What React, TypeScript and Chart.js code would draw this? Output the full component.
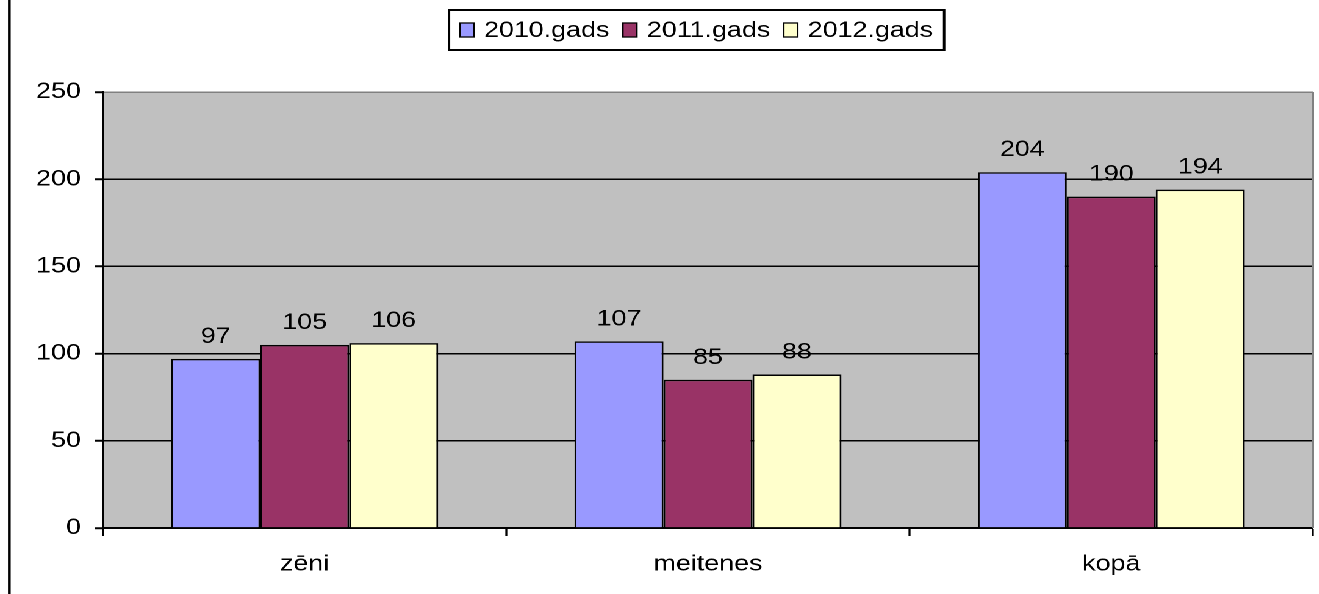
import { useEffect, useRef } from 'react';
import { Chart, ChartConfiguration, Plugin, registerables } from 'chart.js';

Chart.register(...registerables);

// the reference is an Excel chart stretched sideways, so the canvas is drawn narrower and widened with CSS
const STRETCH = 1.22;
const sx = (px: number) => px / STRETCH; // screen px -> canvas units, horizontally
const FONT = "'Liberation Sans', Arial, sans-serif";
const FONT_SIZE = 22;

const categories = ['zēni', 'meitenes', 'kopā'];
const seriesNames = ['2010.gads', '2011.gads', '2012.gads'];
const values2010 = [97, 107, 204];
const values2011 = [105, 85, 190];
const values2012 = [106, 88, 194];
const seriesColors = ['#9999FF', '#993366', '#FFFFCC'];
const yTicks = [0, 50, 100, 150, 200, 250];

const plotFrame: Plugin<'bar'> = {
  id: 'plotFrame',
  beforeDraw(chart) {
    const { ctx, chartArea } = chart;
    ctx.save();
    ctx.fillStyle = '#C0C0C0';
    ctx.fillRect(chartArea.left, chartArea.top, chartArea.right - chartArea.left, chartArea.bottom - chartArea.top);
    ctx.restore();
  },
  afterDraw(chart) {
    const { ctx, chartArea } = chart;
    ctx.save();
    // right edge of the plot area
    ctx.strokeStyle = '#808080';
    ctx.lineWidth = sx(2);
    ctx.beginPath();
    ctx.moveTo(chartArea.right, chartArea.top);
    ctx.lineTo(chartArea.right, chartArea.bottom);
    ctx.stroke();
    // page border on the left
    ctx.fillStyle = '#000';
    ctx.fillRect(sx(8), 0, sx(2.7), chart.height);
    ctx.restore();
  }
};

const valueLabels: Plugin<'bar'> = {
  id: 'valueLabels',
  afterDatasetsDraw(chart) {
    const { ctx } = chart;
    ctx.save();
    ctx.font = `${FONT_SIZE}px ${FONT}`;
    ctx.fillStyle = '#000';
    ctx.textAlign = 'center';
    ctx.textBaseline = 'alphabetic';
    chart.data.datasets.forEach((ds, i) => {
      chart.getDatasetMeta(i).data.forEach((el, j) => {
        ctx.fillText(String(ds.data[j]), el.x, el.y - 16);
      });
    });
    ctx.restore();
  }
};

const boxedLegend: Plugin<'bar'> = {
  id: 'boxedLegend',
  afterDraw(chart) {
    const { ctx } = chart;
    const left = sx(449);
    const top = 10;
    const height = 40;
    const padX = sx(11);
    const swatchW = sx(14);
    const swatchH = 14;
    const gap = sx(10);
    const itemGap = sx(13.5);
    ctx.save();
    ctx.font = `${FONT_SIZE}px ${FONT}`;
    const widths = chart.data.datasets.map((ds) => ctx.measureText(String(ds.label)).width);
    const total = padX * 2 + widths.reduce((s, w) => s + swatchW + gap + w, 0) + itemGap * (widths.length - 1);
    ctx.fillStyle = '#fff';
    ctx.fillRect(left, top, total, height);
    ctx.strokeStyle = '#000';
    ctx.lineWidth = 2;
    ctx.strokeRect(left, top, total, height);
    const cy = top + height / 2;
    let x = left + padX;
    chart.data.datasets.forEach((ds, i) => {
      ctx.fillStyle = String(ds.backgroundColor);
      ctx.fillRect(x, cy - swatchH / 2, swatchW, swatchH);
      ctx.lineWidth = 1.3;
      ctx.strokeStyle = '#000';
      ctx.strokeRect(x, cy - swatchH / 2, swatchW, swatchH);
      ctx.fillStyle = '#000';
      ctx.textAlign = 'left';
      ctx.textBaseline = 'middle';
      ctx.fillText(String(ds.label), x + swatchW + gap, cy + 1);
      x += swatchW + gap + widths[i] + itemGap;
    });
    ctx.restore();
  }
};

function BarChart() {
  const canvasRef = useRef<HTMLCanvasElement | null>(null);
  const chartRef = useRef<Chart<'bar'> | null>(null);

  useEffect(() => {
    if (!canvasRef.current) {
      return;
    }
    const ctx = canvasRef.current.getContext('2d');
    if (!ctx) {
      return;
    }
    const seriesValues = [values2010, values2011, values2012];
    const config: ChartConfiguration<'bar', number[], string> = {
      type: 'bar',
      data: {
        labels: categories,
        datasets: seriesNames.map((name, i) => ({
          label: name,
          data: seriesValues[i],
          backgroundColor: seriesColors[i],
          borderColor: '#000',
          borderWidth: 1.5,
          categoryPercentage: 0.662,
          barPercentage: 1
        }))
      },
      options: {
        responsive: true,
        maintainAspectRatio: false,
        animation: false,
        devicePixelRatio: 2,
        layout: { padding: { top: 92, right: sx(6), bottom: 0, left: 0 } },
        scales: {
          x: {
            offset: true,
            afterFit: (scale) => {
              scale.height = 66;
            },
            grid: {
              drawOnChartArea: false,
              drawTicks: true,
              tickLength: 8,
              tickColor: '#000',
              tickWidth: sx(2)
            },
            border: { color: '#000', width: 2 },
            ticks: {
              color: '#000',
              padding: 15,
              font: { family: FONT, size: FONT_SIZE }
            }
          },
          y: {
            min: yTicks[0],
            max: yTicks[yTicks.length - 1],
            afterFit: (scale) => {
              scale.width = sx(103);
            },
            afterBuildTicks: (scale) => {
              scale.ticks = yTicks.map((v) => ({ value: v }));
            },
            grid: {
              color: (c) => (c.tick && c.tick.value === yTicks[yTicks.length - 1] ? '#808080' : '#000'),
              lineWidth: 1.5,
              tickLength: sx(8),
              tickColor: '#000',
              tickWidth: 2
            },
            border: { color: '#000', width: sx(2) },
            ticks: {
              color: '#000',
              padding: sx(14),
              font: { family: FONT, size: FONT_SIZE }
            }
          }
        },
        plugins: {
          legend: { display: false },
          tooltip: { enabled: false }
        }
      },
      plugins: [plotFrame, valueLabels, boxedLegend]
    };

    if (chartRef.current) {
      chartRef.current.destroy();
    }
    chartRef.current = new Chart(ctx, config);

    return () => {
      chartRef.current?.destroy();
      chartRef.current = null;
    };
  }, []);

  return (
    <div
      style={{
        position: 'fixed',
        left: 0,
        top: 0,
        width: `${1319 / STRETCH}px`,
        height: '594px',
        background: '#fff',
        transform: `scaleX(${STRETCH})`,
        transformOrigin: '0 0'
      }}
    >
      <canvas ref={canvasRef} aria-label="2010.–2012. gads: zēni, meitenes, kopā" role="img" />
    </div>
  );
}

export default function App() {
  return <BarChart />;
}
